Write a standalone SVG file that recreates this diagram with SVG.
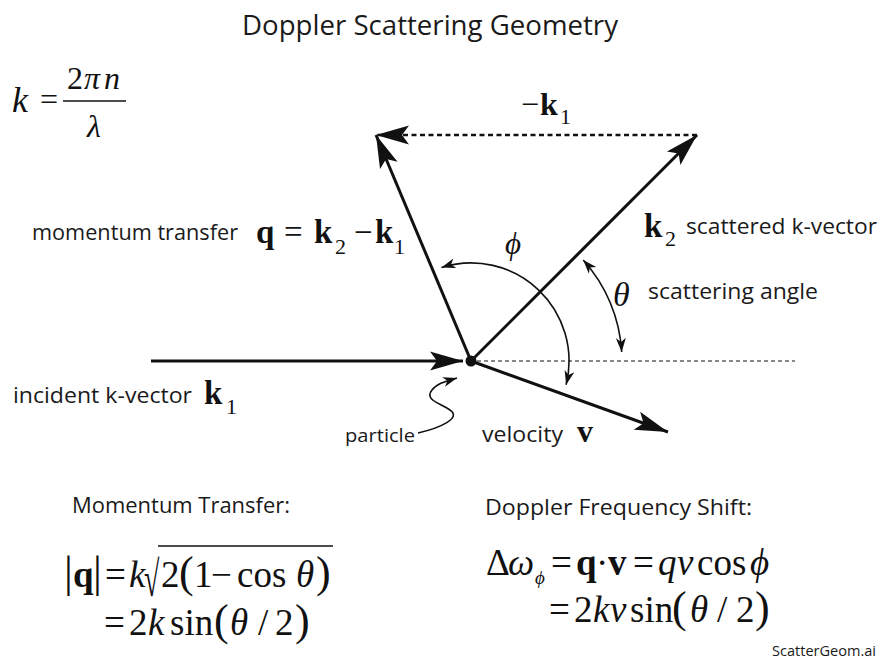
<svg xmlns="http://www.w3.org/2000/svg" width="880" height="660" viewBox="0 0 880 660">
<style>
.s{font-family:"Open Sans","Liberation Sans",sans-serif;fill:#1a1a1a}
.m{font-family:"Liberation Serif","Times New Roman",serif;fill:#111}
.i{font-style:italic}
.b{font-weight:bold}
.vec{stroke:#111;stroke-width:3;fill:none}
.arc{stroke:#111;stroke-width:1.6;fill:none}
</style>
<defs>
<marker id="big" viewBox="-35 -11 36 22" refX="0" refY="0" markerWidth="36" markerHeight="22" markerUnits="userSpaceOnUse" orient="auto">
<path d="M0,0 L-33,-9.5 L-26,0 L-33,9.5 Z" fill="#111" stroke="none"/>
</marker>
<marker id="sm" viewBox="-15 -6 16 12" refX="0" refY="0" markerWidth="16" markerHeight="12" markerUnits="userSpaceOnUse" orient="auto-start-reverse">
<path d="M0,0 L-14,-5 L-10,0 L-14,5 Z" fill="#111" stroke="none"/>
</marker>
</defs>
<rect width="880" height="660" fill="#fff"/>

<g id="title">
<text class="s" x="242" y="35" font-size="27" textLength="376" lengthAdjust="spacingAndGlyphs">Doppler Scattering Geometry</text>
</g>

<g id="formula-k">
<text class="m i" x="12" y="112" font-size="36">k</text>
<text class="m" x="40" y="110" font-size="32">=</text>
<line x1="63" y1="101" x2="126" y2="101" stroke="#111" stroke-width="1.5"/>
<text class="m" y="89" font-size="32"><tspan x="67">2</tspan><tspan class="i" x="84">π</tspan><tspan class="i" x="104">n</tspan></text>
<text class="m i" x="87" y="137" font-size="32">λ</text>
</g>

<g id="connectors">
<line class="vec" x1="151" y1="361" x2="463" y2="361" marker-end="url(#big)"/>
<line x1="477" y1="361" x2="795" y2="361" stroke="#111" stroke-width="1" stroke-dasharray="4 3"/>
<line class="vec" x1="471" y1="361" x2="697" y2="135" marker-end="url(#big)"/>
<line class="vec" x1="471" y1="361" x2="376" y2="135" marker-end="url(#big)"/>
<line x1="697" y1="135" x2="376" y2="135" stroke="#111" stroke-width="2.5" stroke-dasharray="5 3.5" marker-end="url(#big)"/>
<line class="vec" x1="471" y1="361" x2="668" y2="432" marker-end="url(#big)"/>
<path class="arc" d="M441.5,267.5 A98,98 0 0 1 566.1,384.7" marker-start="url(#sm)" marker-end="url(#sm)"/>
<path class="arc" d="M583.2,260 A151,151 0 0 1 621.7,352" marker-start="url(#sm)" marker-end="url(#sm)"/>
<path class="arc" d="M418,433 C440,428 462,418 450,410 C440,403 424,400 432,390 C437,383 447,381 457,378" marker-end="url(#sm)"/>
</g>

<g id="particle">
<circle cx="471" cy="361" r="5.5" fill="#111"/>
<text class="s" x="345" y="442" font-size="19" textLength="70" lengthAdjust="spacingAndGlyphs">particle</text>
</g>

<g id="label-neg-k1">
<text class="m" y="115" font-size="32"><tspan x="521">−</tspan><tspan class="b" x="540">k</tspan><tspan x="560" y="124" font-size="22">1</tspan></text>
</g>

<g id="label-q">
<text class="s" x="32" y="240" font-size="22" textLength="206" lengthAdjust="spacingAndGlyphs">momentum transfer</text>
<text class="m" y="243" font-size="33"><tspan class="b" x="256">q</tspan><tspan x="284">=</tspan><tspan class="b" x="314">k</tspan><tspan x="335" y="254" font-size="22">2</tspan><tspan x="354" y="243">−</tspan><tspan class="b" x="375">k</tspan><tspan x="394" y="254" font-size="22">1</tspan></text>
</g>

<g id="label-k2">
<text class="m" y="237" font-size="33"><tspan class="b" x="644">k</tspan><tspan x="665" y="246" font-size="22">2</tspan></text>
<text class="s" x="686" y="234" font-size="22" textLength="191" lengthAdjust="spacingAndGlyphs">scattered k-vector</text>
</g>

<g id="label-theta">
<text class="m i" x="613" y="306" font-size="34">θ</text>
<text class="s" x="648" y="299" font-size="22" textLength="170" lengthAdjust="spacingAndGlyphs">scattering angle</text>
</g>

<g id="label-phi">
<text class="m i" x="505" y="254" font-size="31">ϕ</text>
</g>

<g id="label-k1">
<text class="s" x="13" y="403" font-size="22" textLength="179" lengthAdjust="spacingAndGlyphs">incident k-vector</text>
<text class="m" y="404" font-size="33"><tspan class="b" x="204">k</tspan><tspan x="226" y="414" font-size="22">1</tspan></text>
</g>

<g id="label-v">
<text class="s" x="482" y="442" font-size="22" textLength="81" lengthAdjust="spacingAndGlyphs">velocity</text>
<text class="m b" x="577" y="442" font-size="32">v</text>
</g>

<g id="momentum-transfer">
<text class="s" x="72" y="513" font-size="22" textLength="218" lengthAdjust="spacingAndGlyphs">Momentum Transfer:</text>
<text class="m" y="587" font-size="37"><tspan x="64" font-size="44">|</tspan><tspan class="b" x="73">q</tspan><tspan x="93" font-size="44">|</tspan><tspan x="105">=</tspan><tspan class="i" x="129">k</tspan><tspan x="161">2</tspan><tspan x="179" font-size="44">(</tspan><tspan x="194">1</tspan><tspan x="211">−</tspan><tspan x="237">cos</tspan><tspan class="i" x="296">θ</tspan><tspan x="316" font-size="44">)</tspan></text>
<text class="m" transform="translate(144,596) scale(0.7,1.25)" font-size="40">√</text>
<line x1="158" y1="546" x2="333" y2="546" stroke="#111" stroke-width="1.6"/>
<text class="m" y="635" font-size="37"><tspan x="104">=</tspan><tspan x="129">2</tspan><tspan class="i" x="148">k</tspan><tspan x="170">sin</tspan><tspan x="214" font-size="44">(</tspan><tspan class="i" x="230">θ</tspan><tspan x="258">/</tspan><tspan x="275">2</tspan><tspan x="295" font-size="44">)</tspan></text>
</g>

<g id="doppler-shift">
<text class="s" x="485" y="515" font-size="22" textLength="267" lengthAdjust="spacingAndGlyphs">Doppler Frequency Shift:</text>
<text class="m" y="575" font-size="37"><tspan x="486">Δ</tspan><tspan class="i" x="508">ω</tspan><tspan class="i" x="535" y="584" font-size="19">ϕ</tspan><tspan x="551" y="575">=</tspan><tspan class="b" x="576">q</tspan><tspan x="596">·</tspan><tspan class="b" x="608">v</tspan><tspan x="633">=</tspan><tspan class="i" x="658">q</tspan><tspan class="i" x="677">v</tspan><tspan x="697">cos</tspan><tspan class="i" x="750">ϕ</tspan></text>
<text class="m" y="622" font-size="37"><tspan x="549">=</tspan><tspan x="574">2</tspan><tspan class="i" x="593">k</tspan><tspan class="i" x="610">v</tspan><tspan x="630">sin</tspan><tspan x="672" font-size="44">(</tspan><tspan class="i" x="690">θ</tspan><tspan x="717">/</tspan><tspan x="736">2</tspan><tspan x="755" font-size="44">)</tspan></text>
</g>

<g id="credit">
<text class="s" x="772" y="656" font-size="15" textLength="104" lengthAdjust="spacingAndGlyphs">ScatterGeom.ai</text>
</g>
</svg>
